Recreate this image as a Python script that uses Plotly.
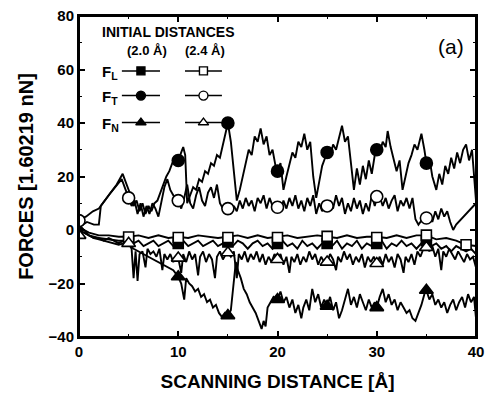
import plotly.graph_objects as go

# ---------------- data ----------------
# F_T, initial distance 2.0 A (filled circles)
ft20_x = [0, 0.8, 1.5, 2.0, 2.2, 3.0, 3.8, 4.4, 4.8, 5.2, 5.5, 5.8, 6.1, 6.4, 6.7, 7.0, 7.3, 7.6, 7.9,
          8.2, 8.5, 8.8, 9.1, 9.4, 9.7, 10.0, 10.3, 10.5, 10.7, 10.9, 11.2, 11.5, 11.8, 12.1, 12.4,
          12.7, 13.0, 13.3, 13.6, 13.9, 14.2, 14.5, 14.8, 15.0, 15.3, 15.6, 15.9, 16.2, 16.5, 16.8,
          17.1, 17.4, 17.7, 18.0, 18.3, 18.6, 18.9, 19.2, 19.5, 19.8, 20.0, 20.3, 20.6, 20.9, 21.2,
          21.5, 21.8, 22.1, 22.4, 22.7, 23.0, 23.3, 23.6, 23.9, 24.2, 24.5, 24.8, 25.0, 25.3, 25.6,
          25.9, 26.2, 26.5, 26.8, 27.1, 27.4, 27.7, 28.0, 28.3, 28.6, 28.9, 29.2, 29.5, 29.8, 30.0,
          30.3, 30.6, 30.9, 31.1, 31.4, 31.7, 32.0, 32.3, 32.6, 32.9, 33.2, 33.5, 33.8, 34.1, 34.5,
          34.8, 35.0, 35.3, 35.6, 36.0, 36.3, 36.6, 36.9, 37.2, 37.5, 37.8, 38.1, 38.4, 38.7, 39.0,
          39.3, 39.6, 39.8, 40.0]
ft20_y = [1, 3, 2, 2, 9, 13, 17, 21, 17, 13, 9, 11, 7, 10, 6, 9, 7, 10, 11,
          14, 17, 20, 22, 25, 27, 26, 29, 31, 28, 10, 13, 16, 15, 19, 18,
          22, 21, 25, 24, 28, 27, 32, 37, 40, 33, 22, 11, 15, 20, 26,
          30, 28, 35, 33, 38, 32, 35, 28, 30, 24, 22, 25, 15, 20, 25,
          29, 27, 33, 31, 36, 30, 33, 20, 12, 18, 24, 27, 29, 27, 32,
          30, 35, 39, 33, 35, 25, 15, 23, 17, 24, 19, 26, 21, 28, 30,
          29, 33, 31, 37, 31, 27, 22, 26, 15, 20, 25, 28, 32, 30, 36,
          30, 25, 27, 20, 15, 21, 17, 24, 21, 27, 23, 29, 25, 30, 32,
          26, 30, 20, 11]
ft20_mx = [10, 15, 20, 25, 30, 35]
ft20_my = [26, 40, 22, 29, 30, 25]

# F_T, initial distance 2.4 A (open circles)
ft24_x = [0, 0.7, 1.4, 2.0, 3.2, 4.3, 4.7, 5.0, 5.3, 5.6, 5.9, 6.2, 6.5, 6.8, 7.1, 7.4, 7.7, 8.0,
          8.3, 8.6, 8.9, 9.2, 9.5, 9.8, 10.0, 10.3, 10.6, 10.9, 11.2, 11.5, 11.8, 12.1, 12.4, 12.7,
          13.0, 13.3, 13.6, 13.9, 14.2, 14.5, 14.8, 15.0, 15.3, 15.6, 15.9, 16.2, 16.5, 16.8, 17.1,
          17.4, 17.7, 18.0, 18.3, 18.6, 18.9, 19.2, 19.5, 19.8, 20.0, 20.3, 20.6, 20.9, 21.2, 21.5,
          21.8, 22.1, 22.4, 22.7, 23.0, 23.3, 23.6, 23.9, 24.2, 24.5, 24.8, 25.0, 25.3, 25.6, 25.9,
          26.2, 26.5, 26.8, 27.1, 27.4, 27.7, 28.0, 28.3, 28.6, 28.9, 29.2, 29.5, 29.8, 30.0, 30.3,
          30.6, 30.9, 31.2, 31.5, 31.8, 32.1, 32.4, 32.7, 33.0, 33.3, 33.6, 33.9, 34.2, 34.6, 35.0,
          35.3, 35.6, 35.9, 36.2, 36.5, 36.8, 37.1, 37.4, 37.7, 38.0, 38.5, 39.0, 39.5, 40.0]
ft24_y = [4, 5, 7, 8, 14, 19, 15, 12, 9, 11, 6, 10, 5, 9, 6, 10, 8, 5,
          11, 16, 19, 15, 13, 11, 11, 8, 12, 17, 10, 8, 13, 16, 11, 9,
          14, 16, 12, 17, 10, 8, 9, 8, 6, 9, 7, 11, 8, 12, 9,
          11, 7, 12, 10, 13, 8, 12, 9, 8, 8.5, 7, 11, 8, 12, 9,
          13, 8, 11, 7, 12, 9, 13, 6, 10, 7, 9, 9, 11, 8, 13,
          9, 12, 6, 10, 7, 12, 8, 11, 6, 10, 7, 13, 9, 12, 12.5,
          9, 12, 8, 11, 13, 7, 11, 9, 12, 8, 12, 4, 2, 4, 4.5,
          6, 3, 7, 4, 8, 5, 7, 3, 0, 2, 4, 6, 8, 10]
ft24_mx = [0, 5, 10, 15, 20, 25, 30, 35]
ft24_my = [3.5, 12, 11, 8, 8.5, 9, 12.5, 4.5]

# F_L, initial distance 2.0 A (filled squares)
fl20_x = [0, 0.5, 1, 2, 3, 4, 5, 5.5, 6, 6.5, 7, 7.5, 8, 8.5, 9, 9.5, 10, 10.5, 11, 11.5, 12, 12.5,
          13, 13.5, 14, 14.5, 15, 15.5, 16, 16.5, 17, 17.5, 18, 18.5, 19, 19.5, 20, 20.5, 21, 21.5,
          22, 22.5, 23, 23.5, 24, 24.5, 25, 25.5, 26, 26.5, 27, 27.5, 28, 28.5, 29, 29.5, 30, 30.5,
          31, 31.5, 32, 32.5, 33, 33.5, 34, 34.5, 35, 35.5, 36, 36.5, 37, 37.5, 38, 38.5, 39, 39.5, 40]
fl20_y = [0, -1, -2, -3, -3.5, -4, -4, -5, -4, -6, -5, -4, -6, -5, -4, -6, -5, -4, -6, -5, -4, -6,
          -5, -4, -6, -5, -4.5, -6, -4, -5, -7, -5, -4, -6, -5, -7, -5, -4, -6, -5,
          -7, -4, -6, -5, -7, -5, -5, -6, -4, -7, -5, -6, -4, -7, -5, -6, -5, -4,
          -7, -5, -6, -4, -6, -5, -7, -5, -4, -6, -5, -7, -6, -8, -6, -7, -8, -7, -9]
fl20_mx = [5, 10, 15, 20, 25, 30, 35]
fl20_my = [-4, -5, -4.5, -5, -5, -5, -4]

# F_L, initial distance 2.4 A (open squares)
fl24_x = [0, 1, 2, 3, 4, 5, 6, 7, 8, 9, 10, 11, 12, 13, 14, 15, 16, 17, 18, 19, 20,
          21, 22, 23, 24, 25, 26, 27, 28, 29, 30, 31, 32, 33, 34, 35, 36, 37, 38, 39, 40]
fl24_y = [1, -1, -2, -2, -2.5, -2.5, -2, -3, -2, -3, -2.5, -3, -2, -2.5, -3, -2.5, -2, -3, -2, -3, -2.5,
          -2, -3, -2.5, -2, -2.5, -3, -2, -3, -2.5, -2.5, -3, -2, -3, -2, -2, -3.5, -3, -4, -5.5, -6]
fl24_mx = [5, 10, 15, 20, 25, 30, 35, 39]
fl24_my = [-2.6, -2.8, -2.8, -2.8, -2.4, -2.8, -1.9, -5.5]

# F_N, initial distance 2.0 A (filled triangles)
fn20_x = [0, 0.5, 1, 1.5, 2, 2.5, 3, 3.5, 4, 4.5, 5, 5.5, 6, 6.5, 7, 7.5, 8, 8.5, 9, 9.5, 10, 10.3,
          10.6, 10.8, 11.1, 11.4, 11.7, 12.0, 12.3, 12.6, 12.9, 13.2, 13.5, 13.8, 14.1, 14.4, 14.7,
          15.0, 15.3, 15.6, 15.8, 16.0, 16.3, 16.6, 16.9, 17.2, 17.5, 17.8, 18.1, 18.4, 18.6, 18.8,
          19.0, 19.3, 19.6, 20.0, 20.3, 20.6, 20.9, 21.2, 21.5, 21.8, 22.1, 22.4, 22.6, 22.9, 23.2,
          23.5, 23.8, 24.1, 24.4, 24.7, 25.0, 25.3, 25.6, 25.9, 26.2, 26.5, 26.8, 27.1, 27.4, 27.7,
          28.0, 28.3, 28.6, 28.9, 29.2, 29.5, 29.8, 30.0, 30.3, 30.6, 30.9, 31.2, 31.5, 31.8, 32.1,
          32.4, 32.7, 33.0, 33.3, 33.6, 33.9, 34.2, 34.5, 34.8, 35.0, 35.3, 35.6, 35.9, 36.2, 36.5,
          36.8, 37.1, 37.4, 37.7, 38.0, 38.3, 38.6, 38.9, 39.2, 39.5, 39.8, 40.0]
fn20_y = [0, -1, -2, -3, -3.5, -4, -4.5, -5, -5.5, -5, -5.5, -7, -8, -9, -10, -11, -12, -13, -14, -15, -17.5, -20,
          -26, -18, -20, -21, -23, -22, -25, -24, -27, -26, -29, -28, -31, -32.5, -31,
          -32, -30, -18, -12, -15, -18, -22, -24, -27, -29, -31, -34, -37, -34, -36,
          -29, -27, -25, -26, -23, -27, -25, -29, -26, -31, -28, -33, -29, -26, -30,
          -22, -27, -24, -29, -26, -28.5, -25, -30, -27, -33, -30, -26, -22, -28, -25,
          -29, -24, -27, -30, -26, -29, -27, -29, -25, -22, -27, -24, -28, -26, -30,
          -27, -29, -31, -30, -33, -34, -31, -28, -24, -22.5, -26, -24, -28, -26, -29,
          -27, -31, -28, -26, -30, -27, -25, -29, -24, -27, -25, -33]
fn20_mx = [10, 15, 20, 25, 30, 35]
fn20_my = [-17.5, -32, -26, -28.5, -29, -22.5]

# F_N, initial distance 2.4 A (open triangles)
fn24_x = [0, 0.5, 1, 1.5, 2, 2.5, 3, 3.5, 4, 4.5, 5, 5.3, 5.5, 5.7, 5.9, 6.1, 6.4, 6.7, 6.9, 7.2, 7.5,
          7.8, 8.1, 8.4, 8.6, 8.9, 9.2, 9.5, 9.8, 10.0, 10.3, 10.5, 10.8, 11.1, 11.4, 11.7, 12.0, 12.2,
          12.5, 12.8, 13.1, 13.4, 13.7, 13.9, 14.2, 14.5, 14.8, 15.0, 15.3, 15.6, 15.9, 16.1, 16.4,
          16.7, 17.0, 17.3, 17.6, 17.9, 18.2, 18.5, 18.8, 19.1, 19.4, 19.7, 20.0, 20.3, 20.6, 20.9,
          21.2, 21.4, 21.7, 22.0, 22.3, 22.6, 22.9, 23.2, 23.5, 23.8, 24.1, 24.4, 24.7, 25.0, 25.3,
          25.6, 25.9, 26.1, 26.4, 26.7, 27.0, 27.3, 27.6, 27.9, 28.2, 28.5, 28.8, 29.1, 29.4, 29.7,
          30.0, 30.3, 30.6, 30.9, 31.2, 31.5, 31.8, 32.1, 32.4, 32.7, 32.9, 33.2, 33.5, 33.8, 34.1,
          34.4, 34.7, 35.0, 35.3, 35.6, 35.9, 36.2, 36.5, 36.7, 37.0, 37.3, 37.6, 37.9, 38.2, 38.5,
          38.8, 39.1, 39.4, 39.7, 40.0]
fn24_y = [2, 0, -2, -3, -3, -4, -3, -4, -5, -4, -5, -7, -18, -8, -19, -9, -8, -14, -7, -9, -8,
          -10, -7, -15, -9, -11, -9, -12, -10, -10.5, -16, -9, -12, -8, -11, -9, -17, -10,
          -8, -12, -9, -11, -18, -10, -8, -11, -9, -8.5, -10, -8, -18, -9, -11,
          -8, -12, -9, -11, -8, -12, -9, -13, -10, -12, -9, -11, -9, -13, -10,
          -16, -10, -12, -9, -13, -10, -12, -8, -11, -9, -13, -10, -12, -12, -9,
          -11, -15, -10, -12, -8, -11, -9, -13, -10, -12, -9, -14, -10, -12, -10,
          -12.5, -10, -13, -9, -12, -10, -14, -9, -11, -16, -10, -12, -9, -13, -8,
          -10, -7, -6, -8, -6, -10, -7, -15, -8, -10, -7, -9, -11, -8, -10,
          -12, -9, -11, -10, -14]
fn24_mx = [0, 5, 10, 15, 20, 25, 30, 35]
fn24_my = [-2, -5, -10.5, -8.5, -11, -12, -12.5, -6.5]

# legend / text
legend_title = "INITIAL DISTANCES"
legend_cols = ["(2.0 Å)", "(2.4 Å)"]
legend_rows = ["F<sub>L</sub>", "F<sub>T</sub>", "F<sub>N</sub>"]
panel_label = "(a)"
x_title = "SCANNING DISTANCE [Å]"
y_title = "FORCES [1.60219 nN]"

# ---------------- figure ----------------
FONT = "Liberation Sans, Arial, sans-serif"
LW = 1.9
fig = go.Figure()

series = [
    (fl20_x, fl20_y, fl20_mx, fl20_my, "square", True),
    (fl24_x, fl24_y, fl24_mx, fl24_my, "square-open", False),
    (fn24_x, fn24_y, fn24_mx, fn24_my, "triangle-up-open", False),
    (fn20_x, fn20_y, fn20_mx, fn20_my, "triangle-up", True),
    (ft24_x, ft24_y, ft24_mx, ft24_my, "circle-open", False),
    (ft20_x, ft20_y, ft20_mx, ft20_my, "circle", True),
]
for xs, ys, mx, my, sym, filled in series:
    fig.add_trace(go.Scatter(x=xs, y=ys, mode="lines",
                             line=dict(color="black", width=LW), showlegend=False,
                             hoverinfo="skip"))
for xs, ys, mx, my, sym, filled in series:
    base = sym.replace("-open", "")
    fig.add_trace(go.Scatter(
        x=mx, y=my, mode="markers", showlegend=False,
        marker=dict(symbol=base, size=12 if "circle" in base else (10 if "square" in base else 12),
                    color="black" if filled else "white",
                    line=dict(color="black", width=1.6)),
    ))

# legend samples on an overlay axis in fractions of the plot area
row_y = [0.829, 0.752, 0.668]
col_line = [(0.108, 0.204), (0.267, 0.360)]
legend_syms = [("square", "square"), ("circle", "circle"), ("triangle-up", "triangle-up")]
for r, yv in enumerate(row_y):
    for c, (x0, x1) in enumerate(col_line):
        fig.add_trace(go.Scatter(
            x=[x0, (x0 + x1) / 2, x1], y=[yv, yv, yv], mode="lines",
            line=dict(color="black", width=1.5), xaxis="x2", yaxis="y2",
            showlegend=False, hoverinfo="skip"))
        fig.add_trace(go.Scatter(
            x=[(x0 + x1) / 2], y=[yv], mode="markers", xaxis="x2", yaxis="y2",
            marker=dict(symbol=legend_syms[r][c], size=9 if r else 8,
                        color="black" if c == 0 else "white",
                        line=dict(color="black", width=1.4)),
            showlegend=False, hoverinfo="skip"))

ann = []
ann.append(dict(text=legend_title, x=0.053, y=0.950, xref="paper",
                yref="paper", xanchor="left", yanchor="middle", showarrow=False,
                font=dict(family=FONT, size=14, color="black", weight="bold")))
for txt, xv in zip(legend_cols, [0.171, 0.318]):
    ann.append(dict(text=txt, x=xv, y=0.894, xref="paper", yref="paper", showarrow=False,
                    xanchor="center", yanchor="middle",
                    font=dict(family=FONT, size=13, color="black", weight="bold")))
for txt, yv in zip(legend_rows, row_y):
    ann.append(dict(text=txt, x=0.053, y=yv - 0.005, xref="paper", yref="paper", showarrow=False,
                    xanchor="left", yanchor="middle",
                    font=dict(family=FONT, size=15, color="black", weight="bold")))
ann.append(dict(text=panel_label, x=0.937, y=0.904, xref="paper", yref="paper", showarrow=False,
                xanchor="center", yanchor="middle",
                font=dict(family=FONT, size=21, color="black")))

axis_common = dict(showline=True, linecolor="black", linewidth=2, mirror="allticks",
                   ticks="inside", ticklen=6, tickwidth=1.5, tickcolor="black",
                   showgrid=False, zeroline=False, automargin=False,
                   ticklabeloverflow="allow",
                   tickfont=dict(family=FONT, size=15, color="black", weight="bold"))
fig.update_layout(
    width=489, height=411, margin=dict(l=79, r=13, t=16, b=74),
    paper_bgcolor="white", plot_bgcolor="white",
    xaxis=dict(range=[0, 40], dtick=10, tick0=0,
               minor=dict(dtick=5, ticks="inside", ticklen=3, tickcolor="black", tickwidth=1.2),
               title=dict(text=x_title, standoff=16,
                          font=dict(family=FONT, size=19, color="black", weight="bold")),
               **axis_common),
    yaxis=dict(range=[-40, 80], dtick=20, tick0=0,
               minor=dict(dtick=10, ticks="inside", ticklen=3, tickcolor="black", tickwidth=1.2),
               title=dict(text=y_title, standoff=10,
                          font=dict(family=FONT, size=20, color="black", weight="bold")),
               **axis_common),
    xaxis2=dict(range=[0, 1], overlaying="x", visible=False, domain=[0, 1]),
    yaxis2=dict(range=[0, 1], overlaying="y", visible=False, domain=[0, 1]),
    annotations=ann,
    shapes=[dict(type="rect", xref="paper", yref="paper", x0=0, x1=1, y0=0, y1=1,
                 line=dict(color="black", width=2), layer="above")],
    showlegend=False,
)
# remove the browser's default 8 px body margin so the figure sits at the page corner
fig.write_html("out.html", config={"displayModeBar": False},
               post_script="document.body.style.margin='0';document.body.style.overflow='hidden';")
